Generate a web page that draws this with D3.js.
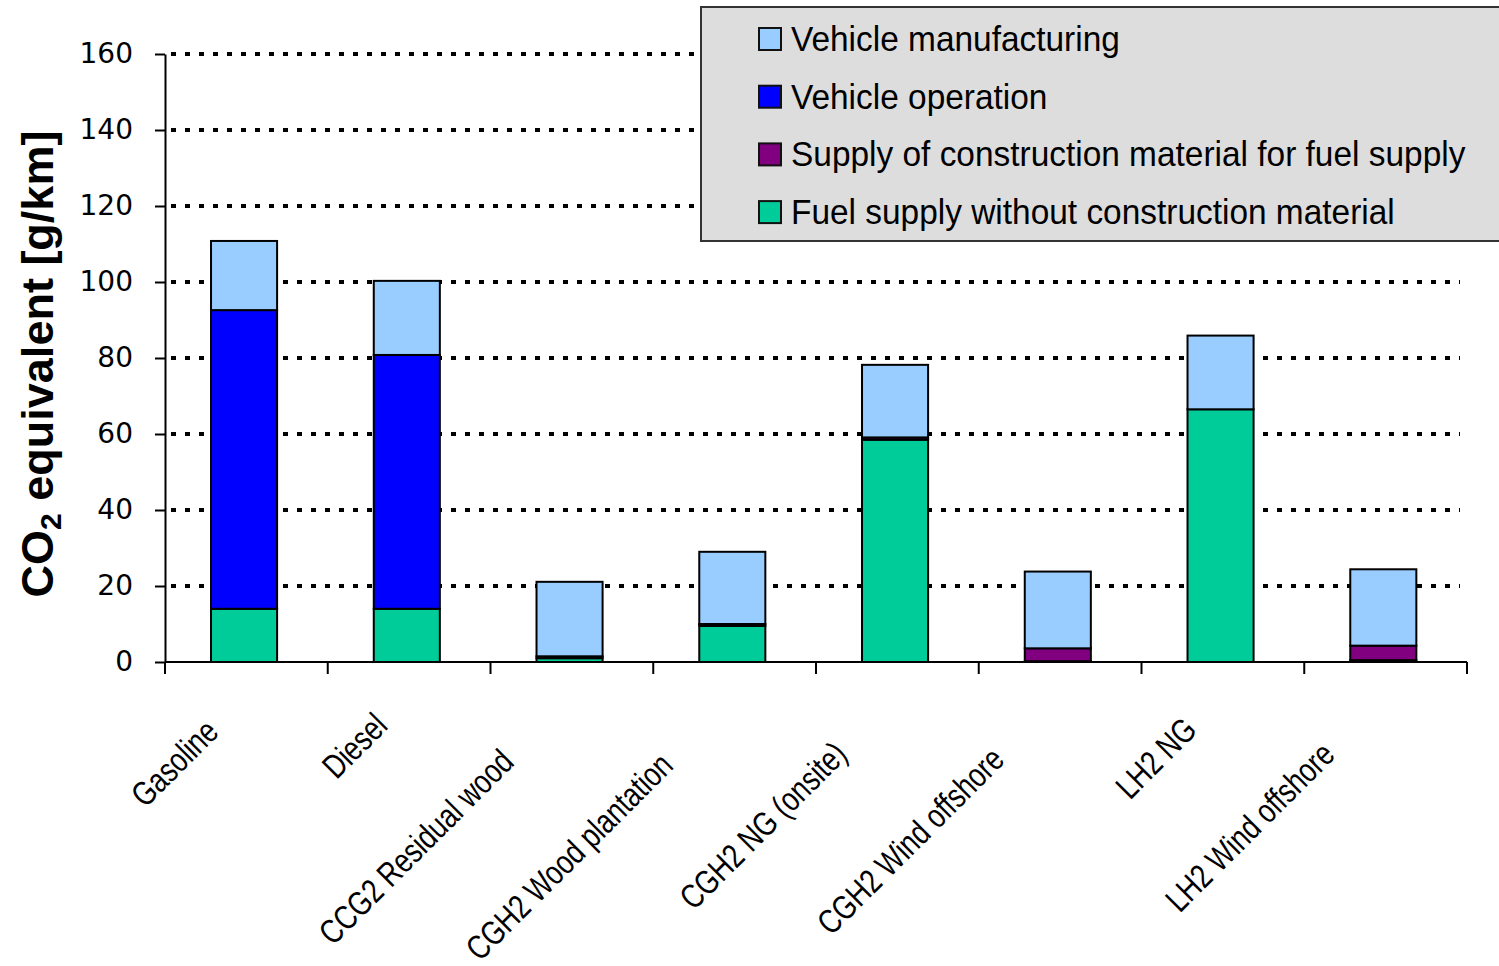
<!DOCTYPE html>
<html>
<head>
<meta charset="utf-8">
<script src="https://cdn.jsdelivr.net/npm/d3@7"></script>
<style>
  html, body { margin: 0; padding: 0; background: #ffffff; }
  svg { display: block; }
</style>
</head>
<body>
<svg id="chart" width="1499" height="966"></svg>
<script>
const categories = ["Gasoline", "Diesel", "CCG2 Residual wood", "CGH2 Wood plantation",
  "CGH2 NG (onsite)", "CGH2 Wind offshore", "LH2 NG", "LH2 Wind offshore"];
const fuelSupply           = [14.0, 14.0, 1.0, 9.5, 58.5, 0.2, 66.5, 0.5];
const constructionMaterial = [0, 0, 0.5, 0.5, 0.6, 3.4, 0, 3.8];
const vehicleOperation     = [78.6, 66.8, 0, 0, 0, 0, 0, 0];
const vehicleManufacturing = [18.2, 19.5, 19.6, 19.0, 19.1, 20.2, 19.4, 20.1];
const yTicks = [0, 20, 40, 60, 80, 100, 120, 140, 160];
const seriesNames = ["Fuel supply without construction material",
  "Supply of construction material for fuel supply", "Vehicle operation", "Vehicle manufacturing"];
const seriesColors = ["#00cc99", "#800080", "#0000ff", "#99ccff"];
const legendOrder = [3, 2, 1, 0];

(function () {
const seriesValues = [fuelSupply, constructionMaterial, vehicleOperation, vehicleManufacturing];
const rows = categories.map((c, i) => {
  const r = { cat: c };
  seriesNames.forEach((s, k) => r[s] = seriesValues[k][i]);
  return r;
});
const stacked = d3.stack().keys(seriesNames)(rows);

const svg = d3.select("#chart");
const mLeft = 165, mRight = 1467, mTop = 54, mBottom = 662;

const x = d3.scaleBand().domain(categories).range([mLeft, mRight])
  .paddingInner(0.594).paddingOuter(0.297).align(0.476);
const y = d3.scaleLinear().domain([0, 160]).range([mBottom, mTop]);

// gridlines
svg.append("g").selectAll("line").data(yTicks.filter(t => t > 0)).join("line")
  .attr("x1", mLeft).attr("x2", 1460)
  .attr("y1", d => y(d)).attr("y2", d => y(d))
  .attr("stroke", "#000").attr("stroke-width", 4)
  .attr("stroke-dasharray", "5,9").attr("stroke-dashoffset", -6);

// legend box
const lg = svg.append("g");
lg.append("rect").attr("x", 701).attr("y", 7).attr("width", 820).attr("height", 234)
  .attr("fill", "#dddddd").attr("stroke", "#333").attr("stroke-width", 2);
legendOrder.forEach((k, i) => {
  const cy = 39 + i * 57.7;
  lg.append("rect").attr("x", 759).attr("y", cy - 11).attr("width", 22).attr("height", 22)
    .attr("fill", seriesColors[k]).attr("stroke", "#111").attr("stroke-width", 2);
  lg.append("text").attr("transform", `translate(791,${cy + 12}) scale(0.955,1)`)
    .attr("font-family", "'Liberation Sans Narrow', 'Arial Narrow', sans-serif")
    .attr("font-size", 35).attr("fill", "#000").text(seriesNames[k]);
});

// bars
svg.append("g").selectAll("g").data(stacked).join("g")
  .attr("fill", (d, i) => seriesColors[i])
  .selectAll("rect").data(d => d.filter(p => p[1] - p[0] > 0)).join("rect")
  .attr("x", d => x(d.data.cat)).attr("width", x.bandwidth())
  .attr("y", d => y(d[1])).attr("height", d => y(d[0]) - y(d[1]))
  .attr("stroke", "#000").attr("stroke-width", 2);

// y axis
const yAxis = svg.append("g").attr("transform", `translate(${mLeft},0)`)
  .call(d3.axisLeft(y).tickValues(yTicks).tickSize(10).tickPadding(22).tickSizeOuter(0));
yAxis.select(".domain").attr("stroke", "#000").attr("stroke-width", 2);
yAxis.selectAll(".tick line").attr("stroke", "#000").attr("stroke-width", 2);
yAxis.selectAll(".tick text").attr("font-family", "'DejaVu Sans', sans-serif")
  .attr("font-size", 28).attr("fill", "#000");

// x axis
svg.append("line").attr("x1", mLeft).attr("x2", mRight).attr("y1", mBottom).attr("y2", mBottom)
  .attr("stroke", "#000").attr("stroke-width", 2);
const boundaries = d3.range(categories.length + 1).map(i => mLeft + i * (mRight - mLeft) / categories.length);
svg.append("g").selectAll("line").data(boundaries).join("line")
  .attr("x1", d => d).attr("x2", d => d).attr("y1", mBottom).attr("y2", mBottom + 12)
  .attr("stroke", "#000").attr("stroke-width", 2);

const sx = 0.79;
svg.append("g").selectAll("text").data(categories).join("text")
  .attr("text-anchor", "end")
  .attr("font-family", "'Liberation Sans Narrow', 'Arial Narrow', sans-serif")
  .attr("font-size", 34).attr("fill", "#000")
  .text(d => d)
  .each(function (d) {
    const L = this.getComputedTextLength() * sx;
    const s = (4 + 0.28 * L) * Math.SQRT1_2;
    const cx = x(d) + x.bandwidth() / 2;
    d3.select(this).attr("transform",
      `translate(${cx - s},${710 + s}) rotate(-45) scale(${sx},1)`);
  });

// y title
const yt = svg.append("text").attr("transform", "translate(53,364) rotate(-90)")
  .attr("text-anchor", "middle")
  .attr("font-family", "'Liberation Sans', Arial, sans-serif")
  .attr("font-weight", "bold").attr("font-size", 45).attr("fill", "#000");
yt.append("tspan").text("CO");
yt.append("tspan").attr("font-size", 30).attr("dy", 8).text("2");
yt.append("tspan").attr("dy", -8).text(" equivalent [g/km]");
})();
</script>
</body>
</html>
